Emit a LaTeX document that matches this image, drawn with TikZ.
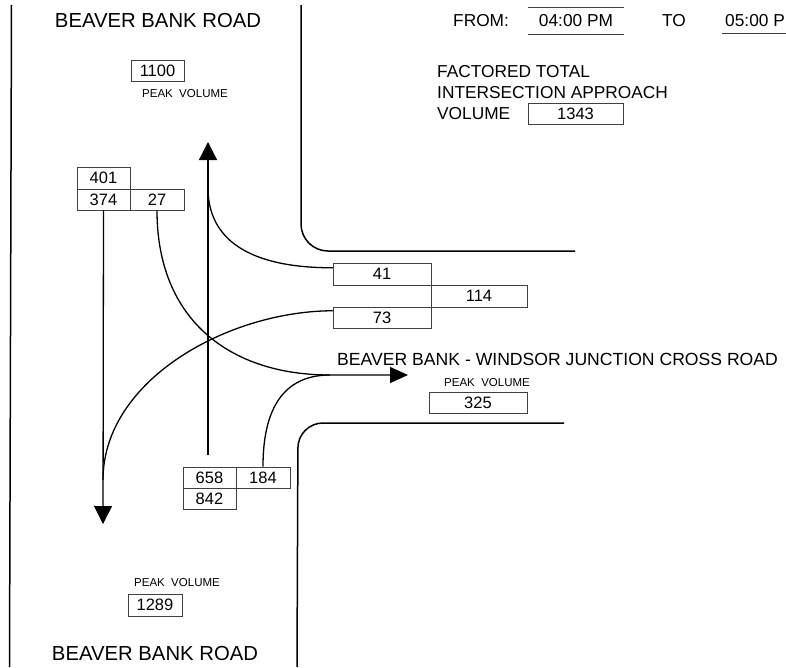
\documentclass[tikz,border=0pt]{standalone}
\usepackage{fontspec}
\setmainfont{Liberation Sans}
\usetikzlibrary{arrows.meta}
\begin{document}
\begin{tikzpicture}[x=1pt,y=-1pt,
  road/.style={line width=1.5pt},
  flow/.style={line width=1.3pt},
  tipd/.style={-{Triangle[length=18pt,width=18pt]}},
  tipe/.style={-{Triangle[length=18pt,width=16pt]}},
  numbox/.style={draw=black!75, line width=0.5pt, inner sep=0pt, minimum height=21.5pt, font=\fontsize{16.5}{18}\selectfont},
  small/.style={font=\fontsize{11.5}{13}\selectfont, inner sep=0pt},
  big/.style={font=\fontsize{20.3}{22}\selectfont, inner sep=0pt},
  mid/.style={font=\fontsize{17.3}{20}\selectfont, inner sep=0pt, anchor=base west},
  thinline/.style={draw=black!75, line width=0.5pt}
]
\fill[white] (0,0) rectangle (786,667);
\useasboundingbox (0,0) rectangle (786,667);

% roads
\draw[road] (11.5,5) -- (9.5,667);
\draw[road, rounded corners=27pt] (301,5) -- (301,251) -- (575,251);
\draw[road, rounded corners=25pt] (564,423) -- (298,423) -- (297,667);

% titles
\node[big] (tname) at (158,20.5) {BEAVER BANK ROAD};
\node[big] (bname) at (155,653) {BEAVER BANK ROAD};
\node[font=\fontsize{17.6}{20}\selectfont, inner sep=0pt, anchor=base west] (cname) at (337,365) {BEAVER BANK - WINDSOR JUNCTION CROSS ROAD};

% time header
\node[mid] (from) at (453,26.7) {FROM:};
\node[font=\fontsize{17.3}{20}\selectfont, inner sep=0pt, minimum width=96pt, minimum height=27pt] (t1) at (576,20.5) {04:00 PM};
\draw[thinline] (t1.north west) -- (t1.north east);
\draw[thinline] (t1.south west) -- (t1.south east);
\node[mid] (to) at (662,26.7) {TO};
\node[mid] (t2) at (725,26.7) {05:00 P};
\coordinate (u2a) at (722,33);
\coordinate (u2b) at (786,33);
\draw[thinline] (u2a) -- (u2b);

% factored total
\node[mid] (f1) at (437,77.3) {FACTORED TOTAL};
\node[mid] (f2) at (437,98.3) {INTERSECTION APPROACH};
\node[mid] (f3) at (437,119.3) {VOLUME};
\node[numbox, minimum width=95pt, minimum height=21pt] (n1343) at (575.5,113.5) {1343};

% peak volumes
\node[numbox, minimum width=53pt] (n1100) at (157.5,70.5) {1100};
\node[small] (pv1) at (185,94) {PEAK~~VOLUME};
\node[small] (pv2) at (487,383) {PEAK~~VOLUME};
\node[numbox, minimum width=98pt, minimum height=21pt] (n325) at (478,402.5) {325};
\node[small] (pv3) at (177,583) {PEAK~~VOLUME};
\node[numbox, minimum width=54pt] (n1289) at (155,605) {1289};

% movement boxes
\node[numbox, minimum width=53pt] (n401) at (103.5,178) {401};
\node[numbox, minimum width=53pt] (n374) at (103.5,199.5) {374};
\node[numbox, minimum width=54pt] (n27) at (157,199.5) {27};
\node[numbox, minimum width=98pt, minimum height=22pt] (n41) at (382,274) {41};
\node[numbox, minimum width=96pt, minimum height=22pt] (n114) at (479,296) {114};
\node[numbox, minimum width=98pt, minimum height=21pt] (n73) at (382,317.5) {73};
\node[numbox, minimum width=53pt] (n658) at (209.5,477.5) {658};
\node[numbox, minimum width=54pt] (n184) at (263,477.5) {184};
\node[numbox, minimum width=53pt] (n842) at (209.5,498.5) {842};

% flows
\coordinate (dtip) at (103,524);
\draw[flow, tipd] (n374.south) -- (dtip);
\coordinate (etip) at (408,375);
\draw[flow, tipe] (n27.south) .. controls (157,320) and (230,375) .. (330,375) -- (etip);
\draw[flow] (n184.north) .. controls (263,400) and (290,375) .. (330,375);
\coordinate (ustart) at (208,455);
\coordinate (utip) at (208,142);
\draw[flow, tipd] (ustart) -- (utip);
\draw[flow] ([yshift=-5pt]n41.north west) .. controls (250,268) and (208,240) .. (208,188);
\draw[flow] ([yshift=-4pt]n73.north west) .. controls (228,311) and (103,380) .. (103,480);
\end{tikzpicture}
\end{document}
